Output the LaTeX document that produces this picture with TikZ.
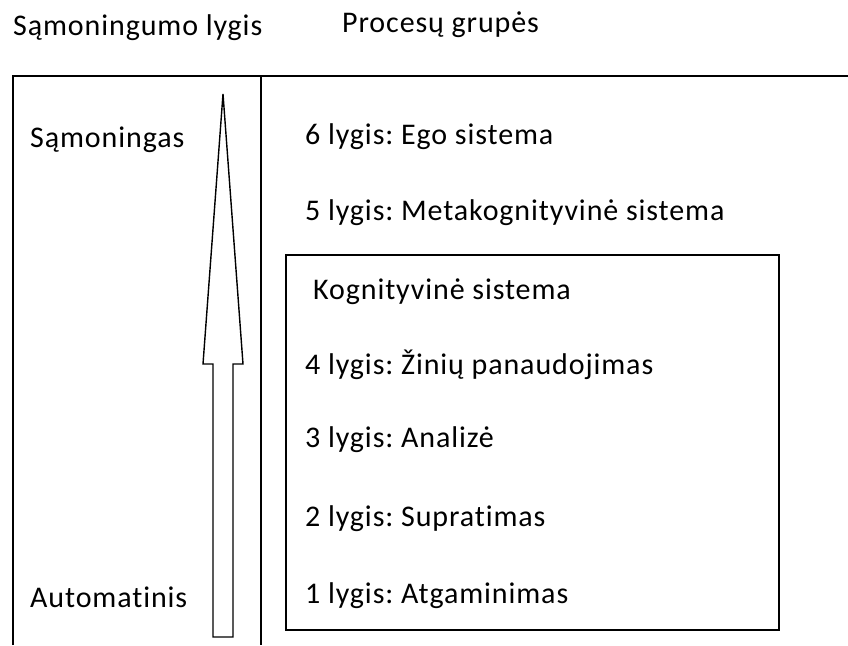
\documentclass[tikz,border=0pt]{standalone}
\usepackage{fontspec}
\setmainfont{Carlito}[LetterSpace=3, Ligatures=NoCommon]
\usepackage{tikz}
\frenchspacing

\begin{document}
\begin{tikzpicture}[x=1pt, y=-1pt,
  lbl/.style={right, inner sep=0pt, font=\fontsize{30}{36}\selectfont},
  frame/.style={line width=1.7pt}]
\useasboundingbox (0,0) rectangle (848,645);

% headings
\node[lbl] (hlevel) at (13,28) {Sąmoningumo lygis};
\node[lbl] (hgroup) at (342,25) {Procesų grupės};

% outer frame and divider
\draw[frame] (13,645) -- (13,76) -- (848,76);
\draw[frame] (261,76) -- (261,645);

% awareness arrow
\draw[line width=1.4pt, line join=miter]
  (223,94) -- (243,364) -- (233,364) -- (233,637) -- (213,637)
  -- (213,364) -- (203,364) -- cycle;
\node[lbl] (aware) at (30,140) {Sąmoningas};
\node[lbl] (auto) at (30,597) {Automatinis};

% levels
\node[lbl] (l6) at (305,137) {6 lygis: Ego sistema};
\node[lbl] (l5) at (305,213) {5 lygis: Metakognityvinė sistema};

\draw[frame] (286,255) rectangle (779,630);
\node[lbl] (kog) at (313,292) {Kognityvinė sistema};
\node[lbl] (l4) at (305,365) {4 lygis: Žinių panaudojimas};
\node[lbl] (l3) at (305,440) {3 lygis: Analizė};
\node[lbl] (l2) at (305,519) {2 lygis: Supratimas};
\node[lbl] (l1) at (305,596) {1 lygis: Atgaminimas};
\end{tikzpicture}
\end{document}
